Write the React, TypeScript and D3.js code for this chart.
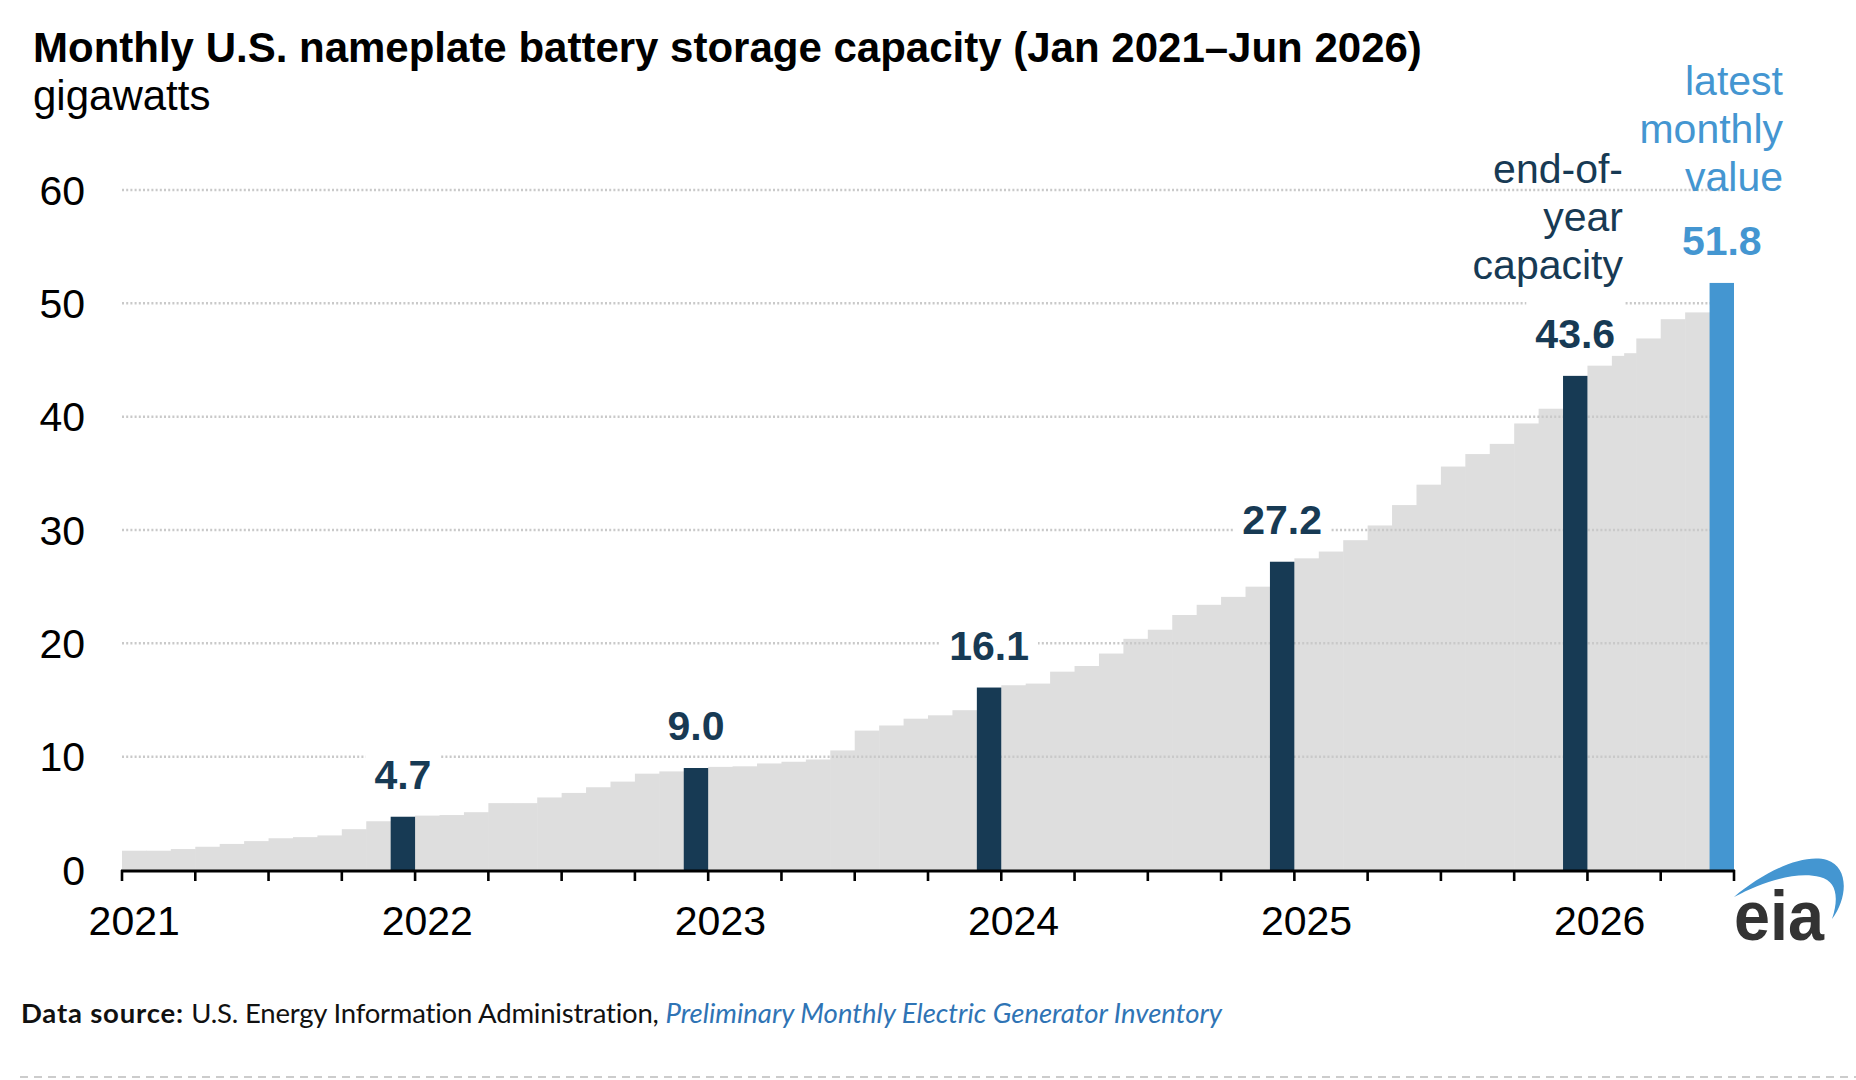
import { useEffect, useRef } from 'react'
import * as d3 from 'd3'

// Monthly nameplate capacity, gigawatts
const cap2021 = [1.7, 1.7, 1.85, 2.05, 2.3, 2.55, 2.8, 2.9, 3.05, 3.6, 4.3, 4.7]
const cap2022 = [4.8, 4.85, 5.1, 5.9, 5.9, 6.4, 6.8, 7.3, 7.8, 8.5, 8.7, 9.0]
const cap2023 = [9.1, 9.15, 9.4, 9.55, 9.75, 10.55, 12.3, 12.75, 13.35, 13.65, 14.1, 16.1]
const cap2024 = [16.3, 16.45, 17.5, 18.0, 19.1, 20.4, 21.2, 22.5, 23.4, 24.1, 25.0, 27.2]
const cap2025 = [27.5, 28.1, 29.1, 30.4, 32.2, 34.0, 35.6, 36.7, 37.6, 39.4, 40.7, 43.6]
const cap2026 = [44.5, 45.6, 46.9, 48.6, 49.2, 51.8]

const capacity = [...cap2021, ...cap2022, ...cap2023, ...cap2024, ...cap2025, ...cap2026]
const months = d3.timeMonth.range(new Date(2021, 0, 1), new Date(2026, 6, 1))

const yearLabels = ['2021', '2022', '2023', '2024', '2025', '2026']
const yTicks = [0, 10, 20, 30, 40, 50, 60]

const NAVY = '#173a54'
const BLUE = '#4496d1'
const GRAY = '#dedede'
const FONT = '"Liberation Sans", Arial, Helvetica, sans-serif'

const W = 1856
const H = 1080

const App = () => {
  const svgRef = useRef<SVGSVGElement>(null)

  useEffect(() => {
    if (!svgRef.current) return
    const svg = d3.select(svgRef.current)
    svg.selectAll('*').remove()

    const left = 122
    const right = 1734
    const top = 190
    const bottom = 870

    const idx = d3.range(capacity.length)
    const x = d3.scaleBand<number>().domain(idx).range([left, right]).padding(0)
    const y = d3.scaleLinear().domain([0, 60]).range([bottom, top])
    const bw = x.bandwidth()

    const isDec = (i: number) => months[i].getMonth() === 11
    const last = capacity.length - 1

    // Title + unit
    svg.append('text')
      .attr('x', 33).attr('y', 62)
      .style('font-family', FONT).style('font-size', '42px').style('font-weight', 'bold')
      .attr('fill', '#000')
      .text('Monthly U.S. nameplate battery storage capacity (Jan 2021\u2013Jun 2026)')
    svg.append('text')
      .attr('x', 33).attr('y', 110)
      .style('font-family', FONT).style('font-size', '42px')
      .attr('fill', '#000')
      .text('gigawatts')

    // Gray monthly bars
    svg.append('g')
      .selectAll('rect')
      .data(idx.filter((i) => !isDec(i) && i !== last))
      .enter()
      .append('rect')
      .attr('x', (i) => x(i)!)
      .attr('width', bw + 0.6)
      .attr('y', (i) => y(capacity[i]))
      .attr('height', (i) => bottom - y(capacity[i]))
      .attr('fill', GRAY)

    // Gridlines
    svg.append('g')
      .selectAll('line')
      .data(yTicks.filter((t) => t > 0))
      .enter()
      .append('line')
      .attr('x1', left).attr('x2', right)
      .attr('y1', (t) => y(t)).attr('y2', (t) => y(t))
      .attr('stroke', '#c9c9c9')
      .attr('stroke-width', 2.5)
      .attr('stroke-dasharray', '2,2.2')

    // Y tick labels
    svg.append('g')
      .selectAll('text')
      .data(yTicks)
      .enter()
      .append('text')
      .attr('x', 85)
      .attr('y', (t) => y(t))
      .attr('dy', '0.36em')
      .attr('text-anchor', 'end')
      .style('font-family', FONT).style('font-size', '41px')
      .attr('fill', '#000')
      .text((t) => t)

    // End-of-year bars and latest value
    const highlight = idx.filter((i) => isDec(i) || i === last)
    svg.append('g')
      .selectAll('rect')
      .data(highlight)
      .enter()
      .append('rect')
      .attr('x', (i) => x(i)!)
      .attr('width', bw)
      .attr('y', (i) => y(capacity[i]))
      .attr('height', (i) => bottom - y(capacity[i]))
      .attr('fill', (i) => (i === last ? BLUE : NAVY))

    // Value labels with white boxes
    const lab = svg.append('g')
    highlight.forEach((i) => {
      const cx = x(i)! + bw / 2
      const base = y(capacity[i]) - 28
      const box = lab.append('rect').attr('fill', '#fff')
      const t = lab.append('text')
        .attr('x', cx).attr('y', base)
        .attr('text-anchor', 'middle')
        .style('font-family', FONT).style('font-size', '41px').style('font-weight', 'bold')
        .attr('fill', i === last ? BLUE : NAVY)
        .text(capacity[i].toFixed(1))
      const w = (t.node() as SVGTextElement).getComputedTextLength()
      if (i !== last) {
        box.attr('x', cx - w / 2 - 9).attr('width', w + 18)
          .attr('y', base - 50).attr('height', 58)
      } else {
        box.remove()
      }
    })

    // Annotations
    const note = (lines: string[], xr: number, y0: number, color: string) => {
      lines.forEach((s, k) => {
        svg.append('text')
          .attr('x', xr).attr('y', y0 + k * 48)
          .attr('text-anchor', 'end')
          .style('font-family', FONT).style('font-size', '41px')
          .attr('fill', color)
          .text(s)
      })
    }
    note(['end-of-', 'year', 'capacity'], 1623, 183, NAVY)
    note(['latest', 'monthly', 'value'], 1783, 95, BLUE)

    // X axis
    svg.append('line')
      .attr('x1', left - 1).attr('x2', right + 1)
      .attr('y1', bottom + 1).attr('y2', bottom + 1)
      .attr('stroke', '#000').attr('stroke-width', 3)
    const tickIdx = d3.range(0, capacity.length + 1, 3)
    svg.append('g')
      .selectAll('line')
      .data(tickIdx)
      .enter()
      .append('line')
      .attr('x1', (i) => (i < capacity.length ? x(i)! : right))
      .attr('x2', (i) => (i < capacity.length ? x(i)! : right))
      .attr('y1', bottom).attr('y2', bottom + 11)
      .attr('stroke', '#000').attr('stroke-width', 2.6)

    svg.append('g')
      .selectAll('text')
      .data(yearLabels)
      .enter()
      .append('text')
      .attr('x', (_, k) => x(k * 12)! + bw / 2)
      .attr('y', 935)
      .attr('text-anchor', 'middle')
      .style('font-family', FONT).style('font-size', '41px')
      .attr('fill', '#000')
      .text((d) => d)

    // eia logo
    const logo = svg.append('g')
    logo.append('path')
      .attr('d', 'M1734,897 C1762,873 1802,853 1827,860 C1849,867 1848,898 1832,919 C1839,898 1837,881 1820,877 C1797,871 1764,881 1734,897 Z')
      .attr('fill', BLUE)
    logo.append('text')
      .attr('x', 1734).attr('y', 940)
      .attr('textLength', 90)
      .attr('lengthAdjust', 'spacingAndGlyphs')
      .style('font-family', FONT).style('font-size', '70px').style('font-weight', 'bold')
      .attr('fill', '#333')
      .text('eia')

    // Source line
    const src = svg.append('text')
      .attr('x', 21).attr('y', 1023)
      .style('font-family', 'Lato, "Open Sans", sans-serif').style('font-size', '27.5px')
      .attr('fill', '#111')
    src.append('tspan').style('font-weight', 'bold').style('letter-spacing', '0.8px').text('Data source: ')
    src.append('tspan').style('letter-spacing', '-0.2px').text('U.S. Energy Information Administration, ')
    src.append('tspan').style('font-style', 'italic').attr('fill', '#2f74b5')
      .text('Preliminary Monthly Electric Generator Inventory')

    svg.append('line')
      .attr('x1', 20).attr('x2', W)
      .attr('y1', 1077).attr('y2', 1077)
      .attr('stroke', '#cccccc').attr('stroke-width', 2)
      .attr('stroke-dasharray', '8,6')
  }, [])

  return (
    <svg
      ref={svgRef}
      width={W}
      height={H}
      style={{ position: 'absolute', left: 0, top: 0, background: '#fff' }}
    />
  )
}

export default App
